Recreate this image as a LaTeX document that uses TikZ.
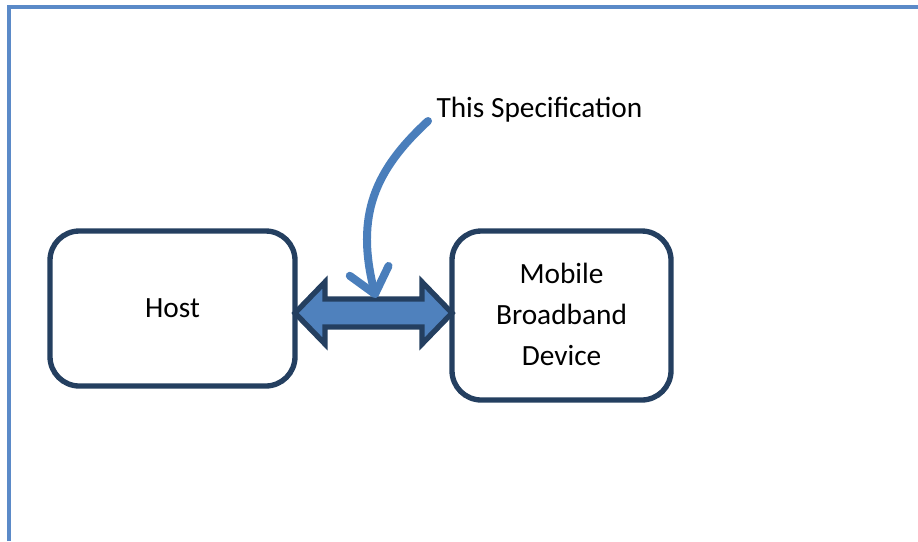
\documentclass[tikz,border=0pt]{standalone}
\usepackage{fontspec}
\setmainfont{Carlito}
\usetikzlibrary{arrows.meta,calc}
\definecolor{boxline}{HTML}{243F60}
\definecolor{accent}{HTML}{4F81BD}
\definecolor{curvecol}{HTML}{4A7EBB}
\definecolor{framecol}{HTML}{5B8AC8}
\begin{document}
\begin{tikzpicture}[x=0.375pt,y=-0.375pt,
  box/.style={draw=boxline,line width=2pt,rounded corners=11pt,inner sep=0pt,outer sep=0pt,
    align=center,font=\fontsize{11}{15.3}\selectfont},
  label/.style={inner sep=0pt,font=\fontsize{11}{15.3}\selectfont},
  iface/.style={draw=boxline,fill=accent,line width=2pt,line join=miter},
  pointer/.style={draw=curvecol,line width=3pt,line cap=round,
    -{Straight Barb[length=9pt,width=15pt,round]}},
  pageframe/.style={draw=framecol,line width=1.5pt,dash pattern=on 0.6pt off 0.15pt}]
\useasboundingbox (0,0) rectangle (918,541);
\draw[pageframe] (9,541) -- (9,6.5) -- (918,6.5);
\node[box,minimum width=91.875pt,minimum height=58.125pt] (host) at (172.5,308.5)
  {\raisebox{0.4pt}{Host}};
\node[box,minimum width=82.125pt,minimum height=63.375pt] (device) at (561.5,315.5)
  {\raisebox{0.9pt}{Mobile}\\\raisebox{0.9pt}{Broadband}\\\raisebox{0.9pt}{Device}};
\node[label,anchor=west] (spec) at (436,110) {This Specification};
\coordinate (L) at (host.east |- 0,313);
\coordinate (R) at (device.west |- 0,313);
\draw[iface] (L) -- ($(L)+(30,-31)$) -- ($(L)+(30,-14)$) -- ($(R)+(-30,-14)$)
  -- ($(R)+(-30,-31)$) -- (R) -- ($(R)+(-30,31)$) -- ($(R)+(-30,14)$)
  -- ($(L)+(30,14)$) -- ($(L)+(30,31)$) -- cycle;
\coordinate (target) at (376,298);
\draw[pointer] ($(spec.west)+(-8,11)$) .. controls (375,170) and (355,215) .. (target);
\end{tikzpicture}
\end{document}
